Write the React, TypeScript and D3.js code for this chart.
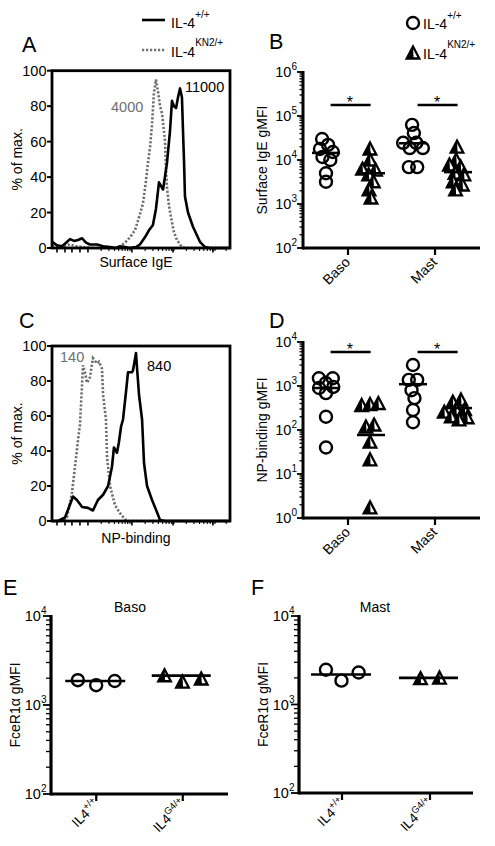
import React from 'react';
import * as d3 from 'd3';

const FONT = '"Liberation Sans", Arial, Helvetica, sans-serif';
const GRAY = '#6f6f6f';
const TXT = 14;
const NUM = 14.5;

// ---------- Panel A: Surface IgE histograms (x: display channel 0-100, y: % of max) ----------
const surfIgeWtX = [0, 2.8, 5.6, 7.9, 10.1, 12.4, 14.6, 16.9, 19.1, 21.3, 25.3, 28.7, 32.6, 36.0, 38.2, 41.0, 43.8, 47.2, 49.4, 52.2, 54.5, 56.7, 58.4, 60.1, 62.4, 64.6, 66.3, 67.4, 68.5, 69.7, 70.8, 71.9, 73.0, 73.6, 74.2, 74.7, 76.4, 79.2, 83.1, 86.0, 88.8, 100];
const surfIgeWtY = [3.5, 1.5, 1, 3, 5, 4, 4.5, 5.5, 3, 2, 2, 1, 0.5, 0, 1, 0.5, 0, 0.5, 2, 6, 10, 13, 22, 37, 33, 48, 66, 83, 80, 79, 85, 90, 85, 66, 48, 29, 20, 12, 3.5, 0.5, 0, 0];
const surfIgeKnX = [0, 3.4, 6.7, 10.1, 13.5, 18.0, 24.2, 37.1, 41.0, 43.8, 46.6, 49.4, 51.1, 52.8, 53.9, 55.1, 56.2, 57.3, 58.4, 59.6, 60.7, 61.8, 62.9, 63.5, 64.0, 64.6, 65.7, 66.9, 68.5, 70.2, 73.0, 75.3, 100];
const surfIgeKnY = [1, 0.5, 1, 2, 1, 0.5, 0, 0, 3, 6, 10, 19, 25, 38, 48, 57, 70, 88, 95, 88, 80, 76, 66, 60, 45, 34, 24, 17, 9, 4.5, 0.5, 0, 0];

// ---------- Panel C: NP-binding histograms ----------
const npWtX = [0, 3.4, 7.3, 9.6, 11.8, 14.0, 16.9, 20.2, 23.0, 25.8, 28.7, 31.5, 33.7, 34.8, 36.5, 37.6, 38.8, 39.9, 41.6, 42.7, 44.9, 45.5, 47.2, 47.8, 48.9, 50.6, 51.7, 53.4, 56.2, 59.0, 60.7, 63.5, 100];
const npWtY = [0, 0, 2, 8, 14, 12, 8, 7.5, 6, 12, 15, 20, 31, 42, 39, 45, 54, 58, 74, 85, 85, 86, 96, 87, 72, 58, 33, 20, 12, 5, 0.5, 0, 0];
const npKnX = [0, 4.5, 6.7, 8.4, 11.2, 12.9, 14.6, 15.7, 16.9, 17.4, 18.5, 19.7, 21.3, 23.0, 25.3, 26.4, 28.1, 28.7, 30.3, 30.9, 32.6, 35.4, 38.2, 41.0, 42.7, 100];
const npKnY = [0, 0, 0.5, 2, 16, 31, 46, 55, 78, 89, 85, 79, 82, 93, 90, 91, 87, 72, 58, 37, 20, 9, 4.5, 1, 0, 0];

const pctTicks = [0, 20, 40, 60, 80, 100];
const histMajorTicks = [2.8, 7.3, 11.2, 15.7, 20.2, 44.9, 68.0, 90.4];
const histDecades = [20.2, 44.9, 68.0, 90.4];

// ---------- Panel B: Surface IgE gMFI ----------
const cellTypes = ['Baso', 'Mast'];
const igeBasoWT = [30000, 17800, 22000, 15200, 11700, 10000, 5000, 3200];
const igeBasoKN2 = [17800, 10000, 6200, 5900, 4600, 3200, 2100, 1370];
const igeMastWT = [63000, 41000, 24600, 24600, 18700, 18700, 6900, 6900];
const igeMastKN2 = [19600, 10000, 7700, 6900, 5000, 4600, 3200, 2700, 2100];
const igeLineWT = [14500, 24000];
const igeLineKN2 = [5000, 5300];

// ---------- Panel D: NP-binding gMFI ----------
const npBasoWT = [1500, 1500, 1170, 900, 950, 690, 200, 40];
const npBasoKN2 = [360, 380, 400, 117, 130, 53, 21, 1.7];
const npMastWT = [3000, 1380, 1380, 800, 530, 285, 150];
const npMastKN2 = [430, 480, 255, 285, 290, 200, 190, 170];
const npLineWT = [900, 1100];
const npLineKN2 = [77, 315];

// ---------- Panels E/F: FceR1a gMFI ----------
const genotypes = ['+/+', 'G4/+'];
const fceBasoWT = [1900, 1670, 1860];
const fceBasoG4 = [2130, 1810, 1960];
const fceMastWT = [2470, 1860, 2300];
const fceMastG4 = [1960, 1990];
const fceLineBaso = [1860, 2140];
const fceLineMast = [2180, 2000];

type Node = { x: number; y: number; fy: number; vx?: number; vy?: number };

function swarm(values: number[], cx: number, yScale: (v: number) => number, r: number) {
  const n = values.length;
  const nodes: Node[] = values.map((v, i) => ({ x: cx + (i - (n - 1) / 2) * 1.5, y: yScale(v), fy: yScale(v) }));
  const sim = d3
    .forceSimulation(nodes as any)
    .force('x', d3.forceX(cx).strength(0.08))
    .force('collide', d3.forceCollide(r).iterations(3))
    .stop();
  for (let i = 0; i < 300; i++) sim.tick();
  return nodes;
}

const Circle = ({ x, y }: { x: number; y: number }) => (
  <circle cx={x} cy={y} r={6} fill="none" stroke="#000" strokeWidth={2.4} />
);
const Tri = ({ x, y }: { x: number; y: number }) => (
  <g transform={`translate(${x},${y})`}>
    <path d="M0,-6.5 L6.3,5.5 L-6.3,5.5 Z" fill="#fff" stroke="#000" strokeWidth={2.3} strokeLinejoin="miter" />
    <path d="M0,-6.5 L-6.3,5.5 L0.6,5.5 Z" fill="#000" />
  </g>
);

function Sup({ x, y, base, sup, size = TXT, supSize = 10, anchor = 'start', dy = -8, fill = '#000' }: any) {
  return (
    <text x={x} y={y} fontSize={size} textAnchor={anchor} fill={fill}>
      {base}
      <tspan dy={dy} fontSize={supSize}>
        {sup}
      </tspan>
    </text>
  );
}

function HistPanel(props: {
  top: number;
  bottom: number;
  wtX: number[];
  wtY: number[];
  knX: number[];
  knY: number[];
  xTitle: string;
  titleY: number;
}) {
  const { top, bottom, wtX, wtY, knX, knY, xTitle, titleY } = props;
  const left = 52,
    right = 230;
  const x = d3.scaleLinear().domain([0, 100]).range([left, right]);
  const y = d3.scaleLinear().domain([0, 100]).range([bottom, top]);
  const mk = (xs: number[], ys: number[]) =>
    d3
      .line<number>()
      .x((d) => x(d))
      .y((_, i) => y(ys[i]))(xs) as string;
  const minor: number[] = [];
  const dec = histDecades[1] - histDecades[0];
  histDecades.forEach((d0) => {
    for (let k = 2; k <= 9; k++) {
      const p = d0 + Math.log10(k) * dec;
      if (p < 100) minor.push(p);
    }
  });
  return (
    <g>
      <path d={mk(knX, knY)} fill="none" stroke={GRAY} strokeWidth={2.6} strokeDasharray="2.2,1.8" />
      <path d={mk(wtX, wtY)} fill="none" stroke="#000" strokeWidth={2.6} strokeLinejoin="round" />
      <rect x={left} y={top} width={right - left} height={bottom - top} fill="none" stroke="#000" strokeWidth={2.8} />
      {pctTicks.map((t) => (
        <g key={t}>
          <line x1={left - 5} x2={left} y1={y(t)} y2={y(t)} stroke="#000" strokeWidth={2} />
          <text x={left - 5.5} y={y(t) + 5} fontSize={NUM} textAnchor="end">
            {t}
          </text>
        </g>
      ))}
      {histMajorTicks.map((t, i) => (
        <line key={'M' + i} x1={x(t)} x2={x(t)} y1={bottom} y2={bottom + 4.5} stroke="#000" strokeWidth={1.6} />
      ))}
      {minor.map((t, i) => (
        <line key={'m' + i} x1={x(t)} x2={x(t)} y1={bottom} y2={bottom + 3} stroke="#000" strokeWidth={1.1} />
      ))}
      <text x={136} y={titleY} fontSize={TXT} textAnchor="middle">
        {xTitle}
      </text>
      <text transform={`translate(22,${(top + bottom) / 2}) rotate(-90)`} fontSize={TXT} textAnchor="middle">
        % of max.
      </text>
    </g>
  );
}

function LogAxisY({ axisX, scale, decades, majorLen = 6, minorLen = 3.5, labelX }: any) {
  const ticks: any[] = [];
  for (let i = 0; i < decades.length; i++) {
    const d = decades[i];
    ticks.push(
      <line key={'M' + d} x1={axisX - majorLen} x2={axisX} y1={scale(10 ** d)} y2={scale(10 ** d)} stroke="#000" strokeWidth={1.8} />
    );
    if (i < decades.length - 1) {
      for (let k = 2; k <= 9; k++) {
        const yy = scale(k * 10 ** d);
        ticks.push(<line key={`m${d}-${k}`} x1={axisX - minorLen} x2={axisX} y1={yy} y2={yy} stroke="#000" strokeWidth={1.3} />);
      }
    }
    ticks.push(
      <Sup key={'L' + d} x={labelX} y={scale(10 ** d) + 5} base="10" sup={String(d)} anchor="end" size={NUM} supSize={10} dy={-7} />
    );
  }
  return <g>{ticks}</g>;
}

function DotPanel(props: {
  top: number;
  bottom: number;
  left: number;
  right: number;
  domain: [number, number];
  decades: number[];
  series: { wt: number[]; kn: number[] }[];
  lineWT: number[];
  lineKN: number[];
  yTitle: string;
  sigY: number;
}) {
  const { top, bottom, left, right, domain, decades, series, lineWT, lineKN, yTitle, sigY } = props;
  const y = d3.scaleLog().domain(domain).range([bottom, top]);
  const xc = d3.scalePoint<string>().domain(cellTypes).range([left, right]).padding(0.517);
  const step = xc.step();
  const off = step * 0.253;
  return (
    <g>
      {series.map((s, ci) => {
        const c = xc(cellTypes[ci]) as number;
        const wt = swarm(s.wt, c - off, (v) => y(v), 4.2);
        const kn = swarm(s.kn, c + off, (v) => y(v), 4.2);
        return (
          <g key={ci}>
            {wt.map((p, i) => (
              <Circle key={'c' + i} x={p.x} y={p.fy} />
            ))}
            {kn.map((p, i) => (
              <Tri key={'t' + i} x={p.x} y={p.fy} />
            ))}
            <line x1={c - off - 14} x2={c - off + 14} y1={y(lineWT[ci])} y2={y(lineWT[ci])} stroke="#000" strokeWidth={2.5} />
            <line x1={c + off - 13} x2={c + off + 15} y1={y(lineKN[ci])} y2={y(lineKN[ci])} stroke="#000" strokeWidth={2.5} />
            <line x1={c - step * 0.2} x2={c + step * 0.26} y1={sigY} y2={sigY} stroke="#000" strokeWidth={2.6} />
            <text x={c + 2} y={sigY + 3} fontSize={16} textAnchor="middle">
              *
            </text>
            <line x1={c} x2={c} y1={bottom} y2={bottom + 7} stroke="#000" strokeWidth={2.2} />
            <text transform={`translate(${c + 3},${bottom + 15}) rotate(-45)`} fontSize={TXT} textAnchor="end">
              {cellTypes[ci]}
            </text>
          </g>
        );
      })}
      <line x1={left} x2={right} y1={bottom} y2={bottom} stroke="#000" strokeWidth={3} />
      <line x1={left} x2={left} y1={top - 1} y2={bottom + 1.5} stroke="#000" strokeWidth={3} />
      <LogAxisY axisX={left} scale={y} decades={decades} labelX={left - 6} />
      <text transform={`translate(${left - 36},${(top + bottom) / 2}) rotate(-90)`} fontSize={TXT} textAnchor="middle">
        {yTitle}
      </text>
    </g>
  );
}

function FcePanel(props: {
  left: number;
  right: number;
  top: number;
  bottom: number;
  pad: number;
  wt: number[];
  g4: number[];
  lines: number[];
  title: string;
  titleX: number;
}) {
  const { left, right, top, bottom, pad, wt, g4, lines, title, titleX } = props;
  const y = d3.scaleLog().domain([100, 10000]).range([bottom, top]);
  const x = d3.scalePoint<string>().domain(genotypes).range([left, right]).padding(pad);
  const c0 = x(genotypes[0]) as number;
  const c1 = x(genotypes[1]) as number;
  const wtN = swarm(wt, c0, (v) => y(v), 9.5);
  const g4N = swarm(g4, c1, (v) => y(v), 9.5);
  return (
    <g>
      {wtN.map((p, i) => (
        <Circle key={'c' + i} x={p.x} y={p.fy} />
      ))}
      {g4N.map((p, i) => (
        <Tri key={'t' + i} x={p.x} y={p.fy} />
      ))}
      <line x1={c0 - 31} x2={c0 + 29} y1={y(lines[0])} y2={y(lines[0])} stroke="#000" strokeWidth={2.6} />
      <line x1={c1 - 31} x2={c1 + 28} y1={y(lines[1])} y2={y(lines[1])} stroke="#000" strokeWidth={2.6} />
      <line x1={left} x2={right} y1={bottom} y2={bottom} stroke="#000" strokeWidth={3} />
      <line x1={left} x2={left} y1={top - 1} y2={bottom + 1.5} stroke="#000" strokeWidth={3.2} />
      <LogAxisY axisX={left} scale={y} decades={[2, 3, 4]} majorLen={8} minorLen={5} labelX={left - 4.5} />
      {[c0, c1].map((c, i) => (
        <g key={i}>
          <line x1={c} x2={c} y1={bottom} y2={bottom + 7} stroke="#000" strokeWidth={2.2} />
          <text transform={`translate(${c + 4},${bottom + 11}) rotate(-45)`} fontSize={13.5} textAnchor="end">
            IL4
            <tspan dy={-6} fontSize={9.5}>
              {genotypes[i]}
            </tspan>
          </text>
        </g>
      ))}
      <text x={titleX} y={612} fontSize={TXT} textAnchor="middle">
        {title}
      </text>
      <text transform={`translate(${left - 31},${(top + bottom) / 2}) rotate(-90)`} fontSize={TXT} textAnchor="middle">
        FceR1α gMFI
      </text>
    </g>
  );
}

export default function App() {
  return (
    <svg
      width={495}
      height={846}
      style={{ position: 'absolute', left: 0, top: 0, display: 'block', background: '#fff' }}
      fontFamily={FONT}
    >
      <rect width={495} height={846} fill="#fff" />

      <text x={22} y={52} fontSize={21.5}>A</text>
      <text x={269} y={49} fontSize={21.5}>B</text>
      <text x={19} y={328} fontSize={21.5}>C</text>
      <text x={269} y={328} fontSize={21.5}>D</text>
      <text x={3} y={595} fontSize={21.5}>E</text>
      <text x={251} y={595} fontSize={21.5}>F</text>

      {/* Legend A */}
      <line x1={142} x2={165} y1={20} y2={20} stroke="#000" strokeWidth={2.6} />
      <Sup x={171} y={28} base="IL-4" sup="+/+" dy={-10} />
      <line x1={142} x2={165} y1={50} y2={50} stroke={GRAY} strokeWidth={2.6} strokeDasharray="2.2,1.8" />
      <Sup x={171} y={57} base="IL-4" sup="KN2/+" dy={-11} />

      {/* Legend B */}
      <Circle x={413} y={23} />
      <Sup x={423} y={29} base="IL-4" sup="+/+" dy={-10} />
      <Tri x={413} y={53} />
      <Sup x={423} y={59} base="IL-4" sup="KN2/+" dy={-11} />

      {/* Panel A */}
      <HistPanel top={70.7} bottom={248} wtX={surfIgeWtX} wtY={surfIgeWtY} knX={surfIgeKnX} knY={surfIgeKnY} xTitle="Surface IgE" titleY={267} />
      <text x={111} y={112} fontSize={NUM} fill={GRAY}>4000</text>
      <text x={185} y={92} fontSize={NUM}>11000</text>

      {/* Panel C */}
      <HistPanel top={346} bottom={521} wtX={npWtX} wtY={npWtY} knX={npKnX} knY={npKnY} xTitle="NP-binding" titleY={543} />
      <text x={60} y={362} fontSize={NUM} fill={GRAY}>140</text>
      <text x={147} y={371} fontSize={NUM}>840</text>

      {/* Panel B */}
      <DotPanel
        top={72}
        bottom={248}
        left={303}
        right={480}
        domain={[100, 1e6]}
        decades={[2, 3, 4, 5, 6]}
        series={[
          { wt: igeBasoWT, kn: igeBasoKN2 },
          { wt: igeMastWT, kn: igeMastKN2 },
        ]}
        lineWT={igeLineWT}
        lineKN={igeLineKN2}
        yTitle="Surface IgE gMFI"
        sigY={105}
      />

      {/* Panel D */}
      <DotPanel
        top={342}
        bottom={518}
        left={303}
        right={480}
        domain={[1, 1e4]}
        decades={[0, 1, 2, 3, 4]}
        series={[
          { wt: npBasoWT, kn: npBasoKN2 },
          { wt: npMastWT, kn: npMastKN2 },
        ]}
        lineWT={npLineWT}
        lineKN={npLineKN2}
        yTitle="NP-binding gMFI"
        sigY={352}
      />

      {/* Panel E */}
      <FcePanel left={51} right={228} top={616} bottom={794} pad={0.523} wt={fceBasoWT} g4={fceBasoG4} lines={fceLineBaso} title="Baso" titleX={130} />
      {/* Panel F */}
      <FcePanel left={299} right={473} top={616} bottom={793} pad={0.489} wt={fceMastWT} g4={fceMastG4} lines={fceLineMast} title="Mast" titleX={375} />
    </svg>
  );
}
